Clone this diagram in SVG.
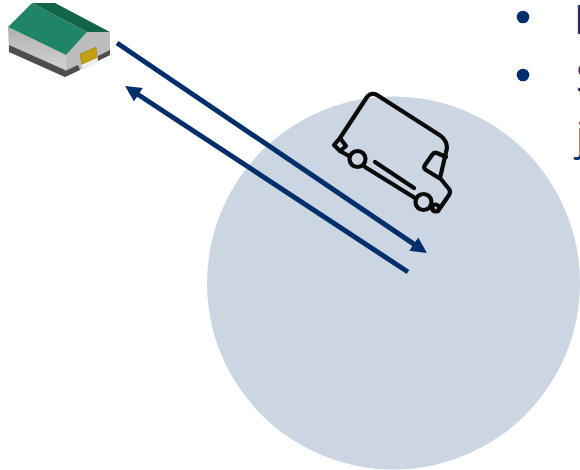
<svg xmlns="http://www.w3.org/2000/svg" width="580" height="470" viewBox="0 0 580 470">
  <style>
    .conn{fill:none;stroke:#002f6c;stroke-width:5;marker-end:url(#head)}
    .van{fill:none;stroke:#0a0a0a;stroke-width:4.200;stroke-linejoin:round;stroke-linecap:round}
    .txt{font-family:"Open Sans",sans-serif;font-size:40px;fill:#002f6c}
  </style>
  <defs>
    <marker id="head" markerUnits="userSpaceOnUse" markerWidth="18" markerHeight="18" refX="6" refY="9" orient="auto">
      <path d="M0 1L16 9L0 17Z" fill="#002f6c"/>
    </marker>
    <linearGradient id="wall" x1="0" y1="0" x2="0" y2="1">
      <stop offset="0" stop-color="#b0b0b0"/><stop offset="1" stop-color="#d8d8d8"/>
    </linearGradient>
  </defs>
  <circle id="zone" cx="393.500" cy="283" r="186.500" fill="#ccd5e2"/>
  <g id="warehouse">
    <path d="M8 27L66 55L65 77L9 52Z" fill="url(#wall)"/>
    <path d="M9 45L65 70L65 77L9 52Z" fill="#4d4d4d"/>
    <path d="M66 55L87 32L110 32L110 55L65 77Z" fill="#bdbdbd"/>
    <path d="M65 71L78 65L80 70L65 77ZM98 56L110 50L110 55L98 61Z" fill="#4d4d4d"/>
    <path d="M80 54L96 47L97 58L82 65Z" fill="#c2a012" stroke="#8a7a10" stroke-width=".5"/>
    <path d="M81 65L97 58L98 62L83 70Z" fill="#eee"/>
    <path d="M8 27L32 3L87 32L66 55Z" fill="#1f8468"/>
    <path d="M32 3L55 3L110 32L87 32Z" fill="#136349"/>
  </g>
  <g id="van" class="van">
    <path d="M340 138L367 97Q371 92 377 95L441 136Q447 141 447 148L440 178L449 189Q451 192 449 195L438 211"/>
    <path d="M340 138L334 145L340 151L346 146L340 138"/>
    <path d="M340 151L349 156M365 167L415 198M431 207L433 209"/>
    <circle cx="357.500" cy="159" r="8"/>
    <circle cx="423.500" cy="202" r="8"/>
    <circle cx="435.500" cy="208" r="3.500"/>
    <path d="M446 157L437 153Q434 152 432 155L425 165Q423 168 426 170L439 178"/>
    <path d="M375 162L414 188"/>
  </g>
  <g id="connectors">
    <path class="conn" d="M117 43L418.700 247.400"/>
    <path class="conn" d="M408 272L133.400 91.500"/>
  </g>
  <g id="bullets">
    <circle cx="523" cy="17" r="6.300" fill="#002f6c"/>
    <circle cx="523" cy="75" r="6.300" fill="#002f6c"/>
    <text class="txt" x="574" y="34">L</text>
    <text class="txt" x="576" y="92">S</text>
    <text class="txt" x="576" y="150">j</text>
  </g>
</svg>
